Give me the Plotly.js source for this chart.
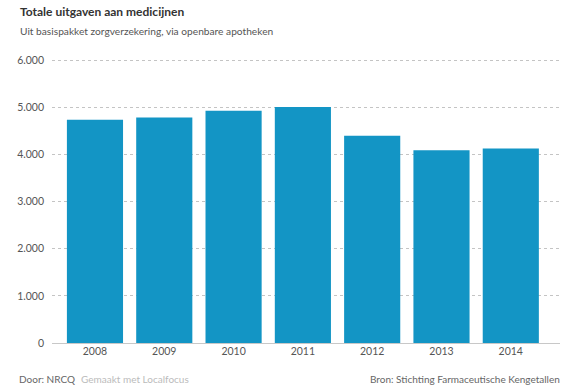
<!DOCTYPE html>
<html>
<head>
<meta charset="utf-8">
<script src="https://cdn.plot.ly/plotly-3.0.1.min.js"></script>
<style>html,body{margin:0;padding:0;background:#fff}#chart{width:584px;height:386px}</style>
</head>
<body>
<div id="chart"></div>
<script>
const years = ['2008','2009','2010','2011','2012','2013','2014'];
const uitgaven = [4740, 4790, 4930, 5010, 4400, 4090, 4130];
const yTicks = [0, 1000, 2000, 3000, 4000, 5000, 6000];

const W = 584, H = 386;
const M = {l: 52, r: 24, t: 59, b: 43};
const pw = W - M.l - M.r, ph = H - M.t - M.b;
const px = x => (x - M.l) / pw;
const py = y => (H - M.b - y) / ph;
const FONT = 'Lato, "Noto Sans", sans-serif';

const trace = {
  type: 'bar',
  x: years,
  y: uitgaven,
  marker: {color: '#1395c5'},
  hoverinfo: 'x+y'
};

const layout = {
  width: W, height: H,
  margin: M,
  paper_bgcolor: '#fff', plot_bgcolor: '#fff',
  separators: ',.',
  bargap: 0.19,
  showlegend: false,
  font: {family: FONT, size: 10, color: '#555'},
  xaxis: {
    type: 'category',
    range: [-0.62, 6.71],
    showgrid: false, zeroline: false, showline: false,
    ticks: '', tickfont: {size: 10.5, color: '#555'}
  },
  yaxis: {
    range: [0, 6030],
    tickvals: yTicks,
    tickformat: ',d',
    showgrid: true, gridcolor: '#c4c4c4', griddash: 'dot', gridwidth: 1,
    zeroline: true, zerolinecolor: '#c8c8c8', zerolinewidth: 1,
    showline: false, ticks: '',
    ticklabelstandoff: 7,
    tickfont: {size: 10.5, color: '#555'}
  },
  annotations: [
    {text: 'Totale uitgaven aan medicijnen', xref: 'paper', yref: 'paper',
     x: px(18), y: py(11.5), xanchor: 'left', yanchor: 'middle', showarrow: false,
     font: {family: FONT, size: 12, color: '#333', weight: 'bold'}},
    {text: 'Uit basispakket zorgverzekering, via openbare apotheken', xref: 'paper', yref: 'paper',
     x: px(18), y: py(31.5), xanchor: 'left', yanchor: 'middle', showarrow: false,
     font: {family: FONT, size: 10.2, color: '#555'}},
    {text: 'Door: NRCQ', xref: 'paper', yref: 'paper',
     x: px(17), y: py(379), xanchor: 'left', yanchor: 'middle', showarrow: false,
     font: {family: FONT, size: 10, color: '#666'}},
    {text: 'Gemaakt met Localfocus', xref: 'paper', yref: 'paper',
     x: px(79), y: py(379), xanchor: 'left', yanchor: 'middle', showarrow: false,
     font: {family: FONT, size: 10, color: '#bbb'}},
    {text: 'Bron: Stichting Farmaceutische Kengetallen', xref: 'paper', yref: 'paper',
     x: px(562), y: py(379), xanchor: 'right', yanchor: 'middle', showarrow: false,
     font: {family: FONT, size: 10, color: '#666'}}
  ]
};

Plotly.newPlot('chart', [trace], layout, {displayModeBar: false, staticPlot: true});
</script>
</body>
</html>
